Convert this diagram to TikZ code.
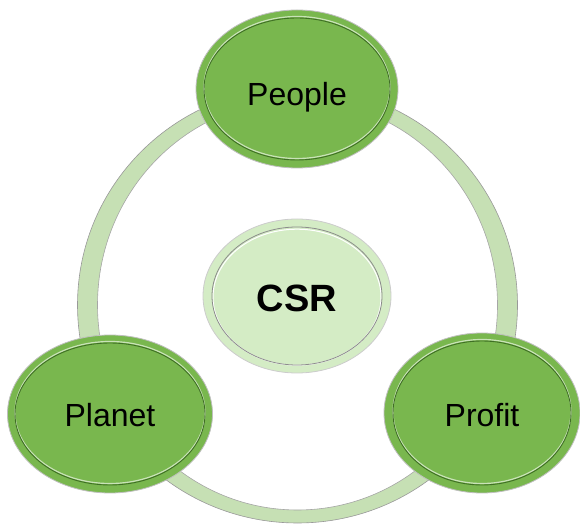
\documentclass[tikz,border=0pt]{standalone}
\usepackage{fontspec}
\setmainfont{Liberation Sans}
\usetikzlibrary{shapes.geometric}
\definecolor{leaf}{HTML}{79B74E}
\definecolor{leafdark}{HTML}{3F6F25}
\definecolor{ringfill}{HTML}{C6E0B4}
\definecolor{csrfill}{HTML}{D4ECC5}
\newcommand{\drop}[2]{\raisebox{-#1}[0pt][0pt]{#2}}
\tikzset{
  bubble/.style={ellipse, fill=leaf, draw=black!25, line width=0.8pt, inner sep=0pt,
    font=\fontsize{32}{36}\selectfont, text=black},
  rimline/.style={draw=leafdark, line width=0.9pt},
  hiline/.style={draw=white!60!leaf, line width=1.2pt},
}
\begin{document}
\begin{tikzpicture}[x=1pt,y=1pt]
\useasboundingbox (0,0) rectangle (580,524);
% ring
\coordinate (rc) at (297.5,219);
\fill[ringfill, even odd rule] (rc) ellipse [x radius=220, y radius=218]
      (rc) ellipse [x radius=200, y radius=205];
\draw[black!40, line width=0.6pt] (rc) ellipse [x radius=220, y radius=218];
\draw[black!35, line width=0.6pt] (rc) ellipse [x radius=200, y radius=205];
% centre
\node[ellipse, fill=csrfill, draw=black!20, line width=0.8pt, inner sep=0pt,
  minimum width=188pt, minimum height=154pt,
  font=\fontsize{38}{42}\selectfont\bfseries] (csr) at (297,228) {\drop{16pt}{CSR}};
\draw[white, line width=1pt] ([yshift=-1.2pt]csr.center) ellipse [x radius=84, y radius=68];
\draw[black!45, line width=0.8pt] (csr.center) ellipse [x radius=85, y radius=69];
% outer bubbles
\node[bubble, minimum width=202pt, minimum height=158pt] (people) at (297,435) {\drop{16.5pt}{People}};
\node[bubble, minimum width=205pt, minimum height=158pt] (planet) at (110,110) {\drop{13pt}{Planet}};
\node[bubble, minimum width=196pt, minimum height=160pt] (profit) at (482,111) {\drop{14pt}{Profit}};
\foreach \n/\rx/\ry in {people/93/71, planet/95/71, profit/89/72}{
  \draw[hiline] ([yshift=1.5pt]\n.center) ellipse [x radius=\rx, y radius=\ry];
  \draw[rimline] (\n.center) ellipse [x radius=\rx, y radius=\ry];
}
\end{tikzpicture}
\end{document}
